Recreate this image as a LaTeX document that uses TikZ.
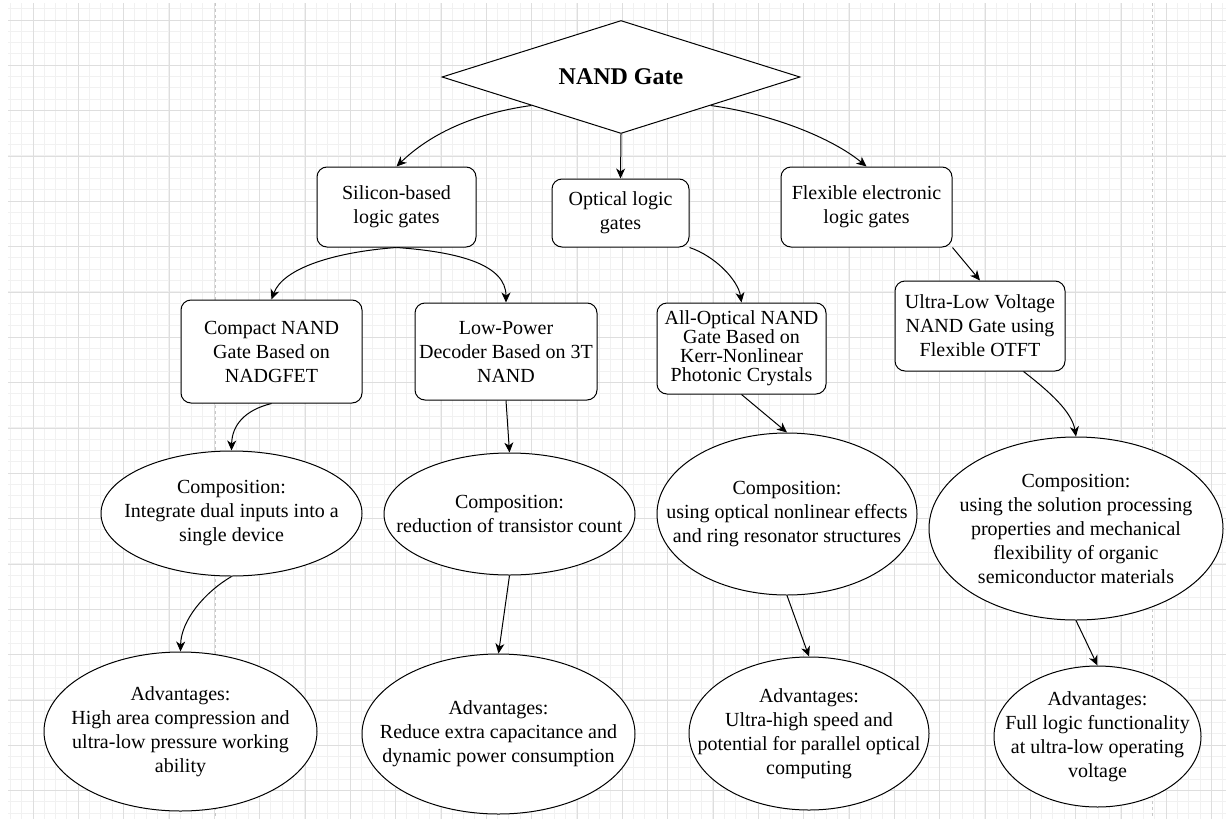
\documentclass[tikz,border=0pt]{standalone}
\usepackage{fontspec}
\setmainfont{Liberation Serif}
\usetikzlibrary{shapes.geometric,arrows.meta}
\definecolor{gridminor}{HTML}{F1F1F1}
\definecolor{gridmajor}{HTML}{DEDEDE}
\definecolor{pagebreak}{HTML}{C8C8C8}

\begin{document}
\begin{tikzpicture}[x=1pt,y=-1pt,
  every node/.style={font=\fontsize{20}{24}\selectfont},
  box/.style={draw=black,line width=1pt,rounded corners=10pt,fill=white,align=center,inner sep=2pt},
  oval/.style={ellipse,draw=black,line width=1pt,fill=white,inner sep=0pt},
  arr/.style={draw=black,line width=1pt,-{Stealth[length=10pt,width=9pt,inset=3pt]}}]
\useasboundingbox (0,0) rectangle (1226,819);
\fill[white] (0,0) rectangle (1226,819);

% background grid
\begin{scope}
\clip (8,3) rectangle (1226,819);
\foreach \k in {-2,...,105} \draw[gridminor,line width=1pt] ({33+\k*11.333},3) -- ({33+\k*11.333},819);
\foreach \k in {-1,...,70} \draw[gridminor,line width=1pt] (8,{20+\k*11.333}) -- (1226,{20+\k*11.333});
\foreach \k in {0,...,26} \draw[gridmajor,line width=1pt] ({33+\k*45.333},3) -- ({33+\k*45.333},819);
\foreach \k in {0,...,17} \draw[gridmajor,line width=1pt] (8,{20+\k*45.333}) -- (1226,{20+\k*45.333});
\draw[pagebreak,dashed,line width=1pt] (215,3) -- (215,819);
\draw[pagebreak,dashed,line width=1pt] (1152,3) -- (1152,819);
\end{scope}

\node[diamond,draw=black,line width=1pt,fill=white,aspect=3.17,minimum width=358,minimum height=113,inner sep=0pt,font=\fontsize{24}{28}\selectfont\bfseries] (gate) at (621,77) {NAND Gate};

\node[box,minimum width=159,minimum height=80] (sil) at (396.5,207) {Silicon-based\\logic gates};
\node[box,minimum width=137,minimum height=68] (opt) at (620.5,213) {Optical logic\\gates};
\node[box,minimum width=171,minimum height=80] (flex) at (866.5,207) {Flexible electronic\\logic gates};

\node[box,minimum width=181,minimum height=103] (cnand) at (271.5,351.5) {Compact NAND\\Gate Based on\\NADGFET};
\node[box,minimum width=182,minimum height=97] (lpow) at (506,351.5) {Low-Power\\Decoder Based on 3T\\NAND};
\node[box,minimum width=169,minimum height=91,font=\fontsize{20}{19}\selectfont] (aopt) at (741.5,348.5) {All-Optical NAND\\Gate Based on\\Kerr-Nonlinear\\Photonic Crystals};
\node[box,minimum width=170,minimum height=90] (ulv) at (980,326) {Ultra-Low Voltage\\NAND Gate using\\Flexible OTFT};

\node[oval,minimum width=261,minimum height=125,label={[align=center]center:{Composition:\\Integrate dual inputs into a\\single device}}] (comp1) at (231.5,513.5) {};
\node[oval,minimum width=251,minimum height=122,label={[align=center]center:{Composition:\\reduction of transistor count}}] (comp2) at (509.5,514) {};
\node[oval,minimum width=260,minimum height=162,label={[align=center]center:{Composition:\\using optical nonlinear effects\\and ring resonator structures}}] (comp3) at (787,514) {};
\node[oval,minimum width=294,minimum height=183,label={[align=center]center:{Composition:\\using the solution processing\\properties and mechanical\\flexibility of organic\\semiconductor materials}}] (comp4) at (1076,528.5) {};

\node[oval,minimum width=273,minimum height=159,label={[align=center]center:{Advantages:\\High area compression and\\ultra-low pressure working\\ability}}] (adv1) at (180.5,731.5) {};
\node[oval,minimum width=273,minimum height=160,label={[align=center]center:{Advantages:\\Reduce extra capacitance and\\dynamic power consumption}}] (adv2) at (498.5,734) {};
\node[oval,minimum width=240,minimum height=153,label={[align=center]center:{Advantages:\\Ultra-high speed and\\potential for parallel optical\\computing}}] (adv3) at (809,733.5) {};
\node[oval,minimum width=207,minimum height=141,label={[align=center]center:{Advantages:\\Full logic functionality\\at ultra-low operating\\voltage}}] (adv4) at (1097.5,736.5) {};

\draw[arr] (gate.south west) .. controls (470,114) and (428,136) .. (sil.north);
\draw[arr] (gate.south) -- (opt.north);
\draw[arr] (gate.south east) .. controls (772,114) and (832,138) .. (flex.north);

\draw[arr] (sil.south) .. controls (335,252) and (283,268) .. (cnand.north);
\draw[arr] (sil.south) .. controls (460,252) and (506,265) .. (lpow.north);
\draw[arr] (opt.south east) .. controls (715,256) and (738,280) .. (aopt.north);
\draw[arr] (flex.south east) -- (ulv.north);

\draw[arr] (cnand.south) .. controls (245,410) and (232,425) .. (comp1.north);
\draw[arr] (lpow.south) -- (comp2.north);
\draw[arr] (aopt.south) -- (comp3.north);
\draw[arr] ([xshift=-42pt]ulv.south east) .. controls (1050,392) and (1072,412) .. (comp4.north);

\draw[arr] (comp1.south) .. controls (205,592) and (181,620) .. (adv1.north);
\draw[arr] (comp2.south) -- (adv2.north);
\draw[arr] (comp3.south) -- (adv3.north);
\draw[arr] (comp4.south) -- (adv4.north);
\end{tikzpicture}
\end{document}
